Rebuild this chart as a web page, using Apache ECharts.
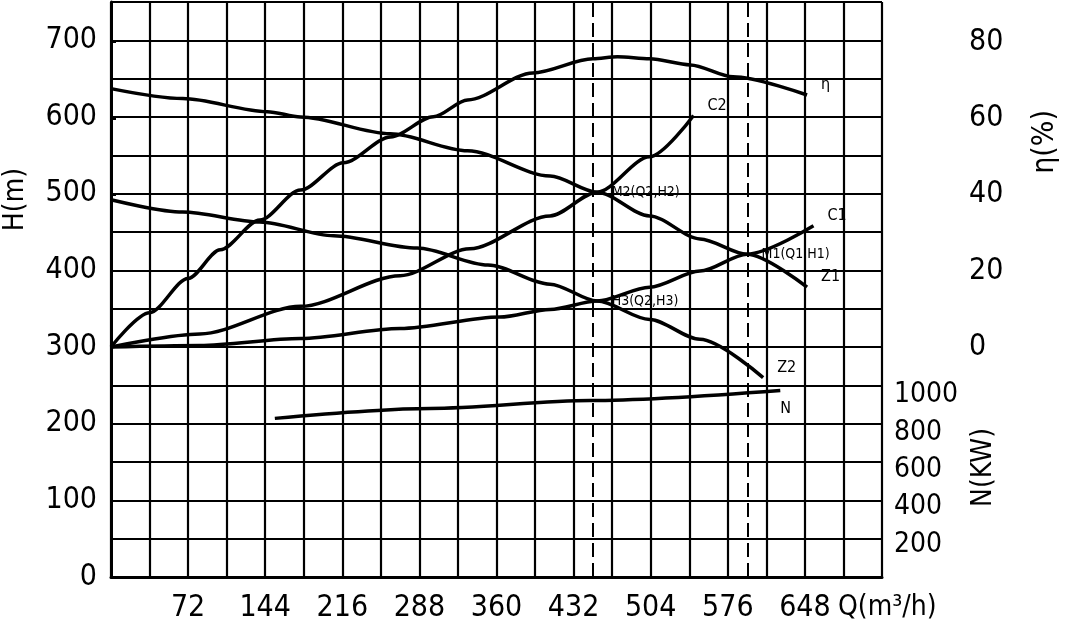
<!DOCTYPE html>
<html>
<head>
<meta charset="utf-8">
<script src="https://cdn.jsdelivr.net/npm/echarts@6/dist/echarts.min.js"></script>
<style>
html, body { margin: 0; padding: 0; background: #fff; }
#chart { width: 1069px; height: 630px; }
</style>
</head>
<body>
<div id="chart"></div>
<script>
// Q (m3/h) vs H (m), eta (%), N (kW)
var z1 = [[0, 637], [67, 624], [146, 607], [177, 600], [261, 578], [333, 556], [410, 523], [454, 502], [503, 471], [550, 441], [594, 421], [650, 378]];
var z2 = [[0, 492], [67, 476], [139, 463], [208, 445], [286, 429], [352, 407], [410, 382], [454, 360], [503, 336], [550, 310], [609, 260]];
var c1 = [[0, 300], [83, 302], [177, 311], [270, 324], [363, 339], [410, 349], [454, 360], [503, 378], [550, 399], [594, 421], [656, 458]];
var c2 = [[0, 300], [83, 317], [177, 353], [270, 393], [335, 428], [410, 471], [454, 502], [503, 548], [544, 602]];
var eta = [[0, 0], [36, 9], [72, 18], [102, 25.5], [139, 33.3], [177, 41.2], [217, 48.3], [261, 55.1], [301, 60.4], [333, 64.8], [394, 71.9], [450, 75.6], [473, 76.1], [503, 75.6], [541, 74], [581, 70.9], [650, 66.1]];
var power = [[153, 875], [298, 928], [447, 970], [625, 1024]];
var dashQ = [450, 595];
var pointsM = [
  { name: 'M2(Q2,H2)', coord: [454, 502] },
  { name: 'M1(Q1,H1)', coord: [594, 421] },
  { name: 'H3(Q2,H3)', coord: [454, 360] }
];

var font = 'DejaVu Sans Condensed';
var chart = echarts.init(document.getElementById('chart'));
var lineStyle = { color: '#000', width: 3.5 };
function curve(name, data, extra) {
  var s = {
    name: name, type: 'line', data: data, smooth: 0.3, smoothMonotone: 'x', symbol: 'none',
    lineStyle: lineStyle, clip: false,
    endLabel: { show: true, formatter: name, color: '#000', fontFamily: font, fontSize: 16, offset: [6, -10] }
  };
  for (var k in extra) s[k] = extra[k];
  return s;
}
var xBase = { type: 'value', min: 0, max: 720, interval: 36 };
var option = {
  animation: false,
  grid: [
    { left: 111, right: 187, top: 2, bottom: 53, show: false },
    { left: 111, right: 187, top: 42, bottom: 283, show: false },
    { left: 111, right: 187, top: 395, bottom: 48, show: false }
  ],
  xAxis: [
    Object.assign({ gridIndex: 0,
      axisLine: { lineStyle: { color: '#000', width: 3 } },
      axisTick: { show: false },
      splitLine: { lineStyle: { color: '#000', width: 2.2 } },
      axisLabel: { color: '#000', fontFamily: font, fontSize: 30, margin: 16,
        formatter: function (v) { return (v > 0 && v < 720 && v % 72 === 0) ? v : ''; } }
    }, xBase),
    Object.assign({ gridIndex: 1, show: false }, xBase),
    Object.assign({ gridIndex: 2, show: false }, xBase)
  ],
  yAxis: [
    { type: 'value', gridIndex: 0, min: 0, max: 750, interval: 50,
      axisLine: { show: true, lineStyle: { color: '#000', width: 3 } },
      axisTick: { show: false },
      splitLine: { lineStyle: { color: '#000', width: 2.2 } },
      axisLabel: { color: '#000', fontFamily: font, fontSize: 30, margin: 14,
        formatter: function (v) { return (v % 100 === 0 && v <= 700) ? v : ''; } } },
    { type: 'value', gridIndex: 1, position: 'right', offset: 61, min: 0, max: 80, interval: 20,
      axisLine: { show: true, lineStyle: { color: '#000', width: 2 } },
      axisTick: { show: true, inside: false, length: 5, lineStyle: { color: '#000', width: 2 } },
      splitLine: { show: false },
      axisLabel: { color: '#000', fontFamily: font, fontSize: 30, margin: 26 } },
    { type: 'value', gridIndex: 2, position: 'right', offset: 0, min: 0, max: 1000, interval: 200,
      axisLine: { show: false }, axisTick: { show: false }, splitLine: { show: false },
      axisLabel: { color: '#000', fontFamily: font, fontSize: 28, margin: 12,
        formatter: function (v) { return v > 0 ? v : ''; } } }
  ],
  graphic: [
    { type: 'text', left: 2, top: 168, rotation: Math.PI / 2, style: { text: 'H(m)', fill: '#000', font: '28px "' + font + '"' } },
    { type: 'text', left: 1030, top: 110, rotation: Math.PI / 2, style: { text: 'η(%)', fill: '#000', font: '30px "' + font + '"' } },
    { type: 'text', left: 970, top: 428, rotation: Math.PI / 2, style: { text: 'N(KW)', fill: '#000', font: '28px "' + font + '"' } },
    { type: 'text', left: 838, top: 594, style: { text: 'Q(m³/h)', fill: '#000', font: '28px "' + font + '"' } }
  ],
  series: [
    curve('Z1', z1, {
      markLine: { silent: true, symbol: 'none', label: { show: false },
        lineStyle: { color: '#000', type: [14, 6], width: 2 },
        data: dashQ.map(function (q) { return { xAxis: q }; }) }
    }),
    curve('Z2', z2),
    curve('C1', c1),
    curve('C2', c2, {
      markPoint: { symbol: 'circle', symbolSize: 1, itemStyle: { color: '#000' },
        label: { show: true, position: 'right', distance: 14, formatter: '{b}', color: '#000', fontFamily: font, fontSize: 14 },
        data: pointsM }
    }),
    curve('η', eta, { xAxisIndex: 1, yAxisIndex: 1 }),
    curve('N', power, { xAxisIndex: 2, yAxisIndex: 2,
      endLabel: { show: true, formatter: 'N', color: '#000', fontFamily: font, fontSize: 16, offset: [-8, 18] } })
  ]
};
chart.setOption(option);
</script>
</body>
</html>
